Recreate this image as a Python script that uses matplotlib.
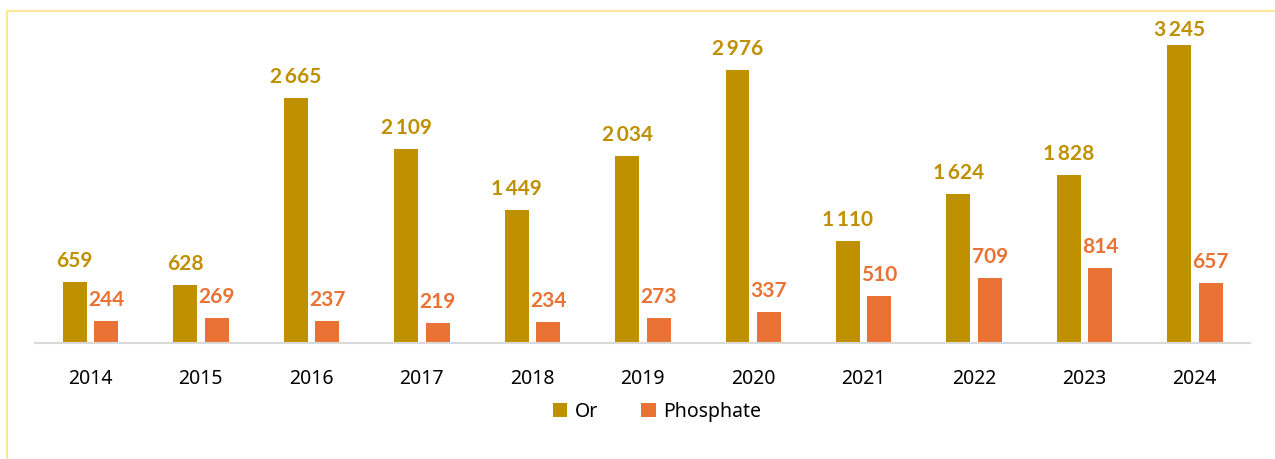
import matplotlib.pyplot as plt
from matplotlib.patches import Rectangle
import numpy as np

years = ['2014', '2015', '2016', '2017', '2018', '2019', '2020', '2021', '2022', '2023', '2024']
gold = [659, 628, 2665, 2109, 1449, 2034, 2976, 1110, 1624, 1828, 3245]
phosphate = [244, 269, 237, 219, 234, 273, 337, 510, 709, 814, 657]

GOLD = '#BF9000'
ORANGE = '#EA7234'

plt.rcParams['font.family'] = ['Noto Sans', 'DejaVu Sans']

W, H = 1275, 459
fig = plt.figure(figsize=(W / 100, H / 100), dpi=100)

# light yellow frame, cut off on the right and bottom like the original
fig.patches.append(Rectangle((7 / W, -0.1), 1.2, 1 - 11 / H + 0.1, transform=fig.transFigure,
                             fill=False, edgecolor='#FFE699', linewidth=1.6))

AX_H = 323
YMAX = 3518
ax = fig.add_axes([35 / W, (H - 343) / H, 1215 / W, AX_H / H])
x = np.arange(len(years))
w = 0.217
ax.bar(x - 0.14, gold, w, color=GOLD, label='Or')
ax.bar(x + 0.145, phosphate, w, color=ORANGE, label='Phosphate')

def fmt(v):
    return f'{v:,}'.replace(',', '\u2009')

def offset(v):
    # labels get pushed down when they'd hit the top of the plot area
    return min(11, (YMAX - v) * AX_H / YMAX - 20)

lab_font = ['Lato', 'DejaVu Sans']
for i in range(len(years)):
    ax.annotate(fmt(gold[i]), (x[i] - 0.14, gold[i]), xytext=(0, offset(gold[i])), textcoords='offset pixels',
                ha='center', va='bottom', color=GOLD, fontsize=15, fontweight='bold', family=lab_font)
    ax.annotate(fmt(phosphate[i]), (x[i] + 0.145, phosphate[i]), xytext=(0, offset(phosphate[i])),
                textcoords='offset pixels', ha='center', va='bottom', color=ORANGE, fontsize=15,
                fontweight='bold', family=lab_font)

ax.set_xlim(-0.5, len(years) - 0.5)
ax.set_ylim(0, YMAX)
ax.set_xticks(x)
ax.set_xticklabels(years, fontsize=14)
ax.tick_params(axis='x', length=0, pad=19)
ax.set_yticks([])
for s in ['top', 'right', 'left']:
    ax.spines[s].set_visible(False)
ax.spines['bottom'].set_color('#D9D9D9')
ax.spines['bottom'].set_linewidth(1.5)

fig.legend(loc='center', bbox_to_anchor=(657 / W, 1 - 412 / H), ncol=2, frameon=False,
           fontsize=14, handlelength=0.75, handleheight=0.75, handletextpad=0.4, columnspacing=2.2)

fig.savefig('out.png', dpi=100)
